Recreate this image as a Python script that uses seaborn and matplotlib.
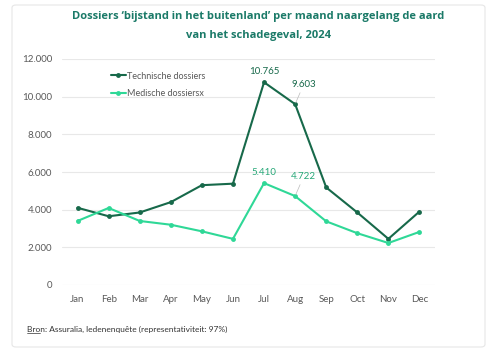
import pandas as pd
import matplotlib.pyplot as plt
import seaborn as sns
from matplotlib.patches import FancyBboxPatch
from matplotlib.ticker import FuncFormatter

months = ["Jan", "Feb", "Mar", "Apr", "May", "Jun", "Jul", "Aug", "Sep", "Oct", "Nov", "Dec"]
technisch = [4100, 3650, 3850, 4400, 5300, 5380, 10765, 9603, 5180, 3850, 2450, 3900]
medisch = [3400, 4090, 3400, 3200, 2850, 2450, 5410, 4722, 3380, 2750, 2230, 2820]
series_names = ["Technische dossiers", "Medische dossiersx"]

dark = "#17694a"
light = "#2fd897"

df = pd.DataFrame({
    "month": months * 2,
    "pos": list(range(12)) * 2,
    "value": technisch + medisch,
    "serie": [series_names[0]] * 12 + [series_names[1]] * 12,
})

sns.set_style("white")
plt.rcParams["font.family"] = ["Lato", "DejaVu Sans"]

fig = plt.figure(figsize=(4.93, 3.52), dpi=100)
card = FancyBboxPatch((12 / 493, 5 / 352), 473 / 493, 342 / 352,
                      boxstyle="round,pad=0,rounding_size=0.008",
                      transform=fig.transFigure, facecolor="white",
                      edgecolor="#e6e6e6", linewidth=0.8, zorder=-5)
fig.patches.append(card)

ax = fig.add_axes([62 / 493, 1 - 285 / 352, 373 / 493, 226 / 352])
ax.set_facecolor("none")
sns.lineplot(data=df, x="pos", y="value", hue="serie", palette=[dark, light],
             marker="o", markersize=3.5, markeredgewidth=0, linewidth=1.5, ax=ax)

ax.set_xlim(-0.5, 11.5)
ax.set_ylim(0, 12000)
ax.set_yticks(range(0, 12001, 2000))
ax.yaxis.set_major_formatter(FuncFormatter(lambda v, p: f"{int(v):,}".replace(",", ".")))
ax.set_xticks(range(12))
ax.set_xticklabels(months)
ax.tick_params(axis="both", labelsize=7, colors="#595959", length=0, pad=7)
ax.grid(axis="y", color="#e8e8e8", linewidth=0.8)
ax.set_axisbelow(True)
for s in ax.spines.values():
    s.set_visible(False)
ax.set_xlabel("")
ax.set_ylabel("")

leg = ax.legend(loc="upper left", bbox_to_anchor=(0.11, 0.98), frameon=False,
                fontsize=6.5, handlelength=1.6, handletextpad=0.1, labelspacing=0.9)
for t in leg.get_texts():
    t.set_color("#595959")

# data labels
ax.annotate(f"{technisch[6]:,}".replace(",", "."), (6, technisch[6]), xytext=(0, 6),
            textcoords="offset points", ha="center", fontsize=7, color=dark)
ax.annotate(f"{technisch[7]:,}".replace(",", "."), (7, technisch[7]), xytext=(6, 12),
            textcoords="offset points", ha="center", fontsize=7, color=dark,
            arrowprops=dict(arrowstyle="-", color="#bbbbbb", lw=0.5, shrinkA=0, shrinkB=1))
ax.annotate(f"{medisch[6]:,}".replace(",", "."), (6, medisch[6]), xytext=(0, 6),
            textcoords="offset points", ha="center", fontsize=7, color="#27a878")
ax.annotate(f"{medisch[7]:,}".replace(",", "."), (7, medisch[7]), xytext=(6, 12),
            textcoords="offset points", ha="center", fontsize=7, color="#27a878",
            arrowprops=dict(arrowstyle="-", color="#bbbbbb", lw=0.5, shrinkA=0, shrinkB=1))

fig.text(258 / 493, 1 - 26 / 352,
         "Dossiers \u2018bijstand in het buitenland\u2019 per maand naargelang de aard\nvan het schadegeval, 2024",
         ha="center", va="center", fontsize=8.0, fontweight="bold", color="#1b7a68",
         linespacing=1.95, family=["Open Sans", "DejaVu Sans"])

fig.text(27 / 493, 1 - 329 / 352,
         "Bron: Assuralia, ledenenqu\u00eate (representativiteit: 97%)",
         fontsize=6, color="#333333", va="center")
fig.add_artist(plt.Line2D([27 / 493, 40 / 493], [1 - 333 / 352, 1 - 333 / 352],
                          transform=fig.transFigure, color="#333333", lw=0.5))

fig.savefig("out.png", dpi=100)
